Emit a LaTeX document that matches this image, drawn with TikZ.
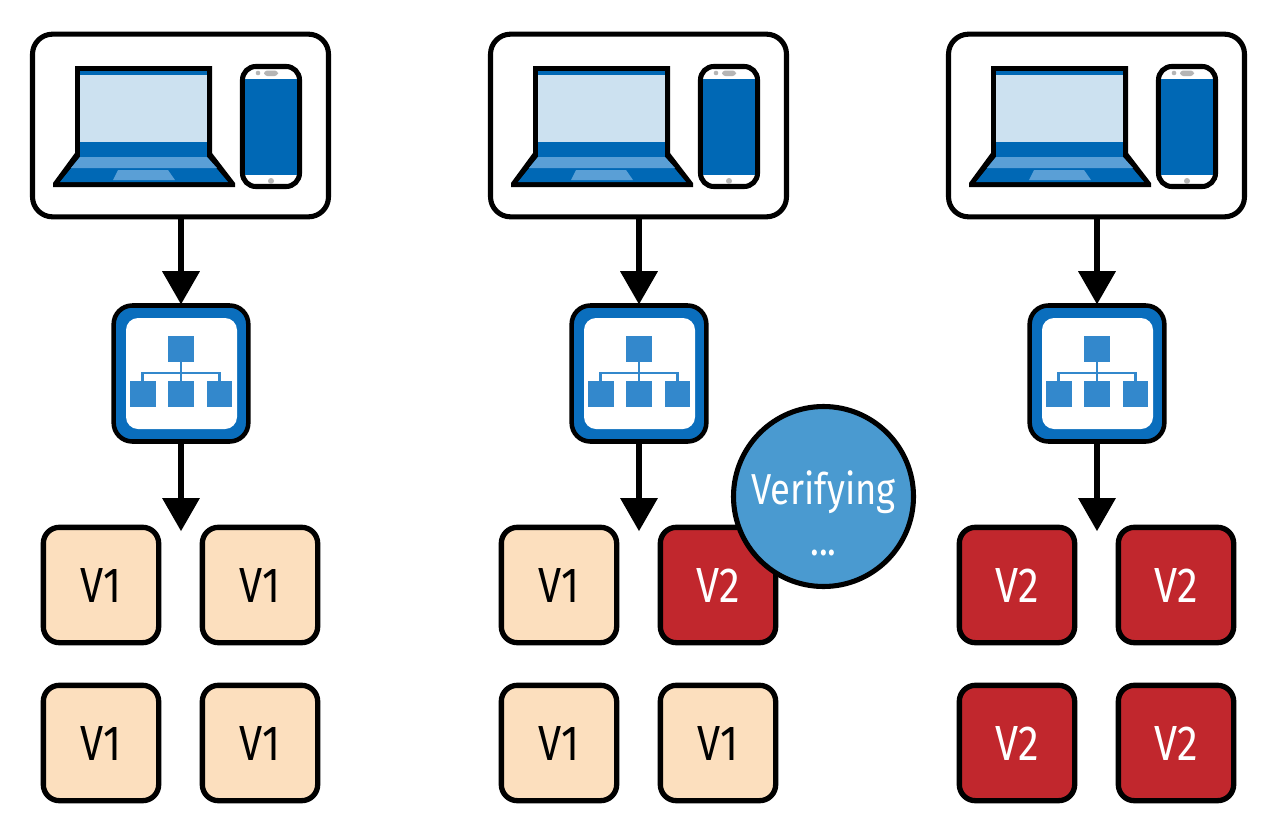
\documentclass[tikz,border=0pt]{standalone}
\usepackage{fontspec}
\setmainfont[FakeStretch=0.84]{Fira Sans}
\usetikzlibrary{arrows.meta}
\definecolor{lapblue}{HTML}{0068B5}
\definecolor{lapmid}{HTML}{5A9FD6}
\definecolor{lapscreen}{HTML}{CCE1F0}
\definecolor{balblue}{HTML}{0A6EBD}
\definecolor{balsq}{HTML}{3388CC}
\definecolor{peach}{HTML}{FCDFBE}
\definecolor{vred}{HTML}{C1272D}
\definecolor{verblue}{HTML}{4A9AD0}
\definecolor{phgray}{HTML}{B5B5B5}
\tikzset{
  devbox/.style={draw=black,fill=white,line width=3.8pt,rounded corners=15pt,minimum width=222pt,minimum height=137pt,inner sep=0pt},
  balbox/.style={draw=black,fill=balblue,line width=3.4pt,rounded corners=14pt,minimum width=101pt,minimum height=102pt,inner sep=0pt},
  vbase/.style={draw=black,line width=4pt,rounded corners=12pt,minimum width=86.5pt,minimum height=86.5pt,inner sep=0pt,font=\fontsize{37}{37}\selectfont},
  vone/.style={vbase,fill=peach,text=black},
  vtwo/.style={vbase,fill=vred,text=white},
  flow/.style={line width=5pt,-{Triangle[length=25pt,width=27pt]},shorten >=-1pt},
  verify/.style={circle,draw=black,fill=verblue,line width=3.8pt,minimum size=135pt,inner sep=0pt,text=white}
}
% #1 name prefix, #2 x offset
\newcommand{\deploycol}[2]{%
\begin{scope}[shift={(#2,0)}]
  \node[devbox] (#1dev) at (180.5,125.5) {};
  % laptop
  \fill[black] (75,66) -- (212,66) -- (212,153) -- (235,183) -- (235,187) -- (53,187) -- (53,183) -- (75,153) -- cycle;
  \fill[lapblue] (80,71) rectangle (207,157);
  \fill[lapscreen] (80,75) rectangle (207,142);
  \fill[lapblue] (80,157) -- (207,157) -- (228,182) -- (60,182) -- cycle;
  \fill[lapmid] (80,157) -- (207,157) -- (217,168) -- (71,168) -- cycle;
  \fill[lapmid] (118,170) -- (168,170) -- (175,180) -- (113,180) -- cycle;
  % phone
  \draw[black,fill=white,line width=3.8pt,rounded corners=10pt] (242.5,66.5) rectangle (299.5,186.5);
  \fill[lapblue] (245,79) rectangle (297,175);
  \fill[phgray] (258,73) circle (2.3);
  \fill[phgray,rounded corners=2.5pt] (264,70.5) rectangle (278,76);
  \fill[phgray] (271,181) circle (3);
  % balancer
  \node[balbox] (#1bal) at (181,373.5) {};
  \fill[white,rounded corners=9pt] (126,318) rectangle (237,429);
  \draw[balsq,line width=1.6pt] (181,362) -- (181,381) (142.5,381) -- (142.5,373) -- (219.5,373) -- (219.5,381);
  \fill[balsq] (168,336) rectangle (194,362);
  \fill[balsq] (130,381) rectangle (156,407);
  \fill[balsq] (168,381) rectangle (194,407);
  \fill[balsq] (207,381) rectangle (232,407);
  % connectors
  \coordinate (#1end) at (181,530);
  \draw[flow] (#1dev.south -| #1bal) -- (#1bal.north);
  \draw[flow] (#1bal.south) -- (#1end);
\end{scope}}
\begin{document}
\begin{tikzpicture}[x=0.75pt,y=-0.75pt]
\useasboundingbox[fill=white] (0,0) rectangle (1278,839);
\deploycol{a}{0}
\deploycol{b}{458}
\deploycol{c}{916}
% column 1
\node[vone] (a11) at (101,585) {V1};
\node[vone] (a12) at (260,585) {V1};
\node[vone] (a21) at (101,743) {V1};
\node[vone] (a22) at (260,743) {V1};
% column 2
\node[vone] (b11) at (559,585) {V1};
\node[vtwo] (b12) at (718,585) {V2};
\node[vone] (b21) at (559,743) {V1};
\node[vone] (b22) at (718,743) {V1};
\node[verify] (ver) at (823.5,496.5) {};
\node[text=white,font=\fontsize{32.5}{32.5}\selectfont] (vertxt) at (823.5,492) {Verifying};
\node[text=white,font=\fontsize{32.5}{32.5}\selectfont,anchor=base] (verdots) at (823.5,555) {...};
% column 3
\node[vtwo] (c11) at (1017,585) {V2};
\node[vtwo] (c12) at (1176,585) {V2};
\node[vtwo] (c21) at (1017,743) {V2};
\node[vtwo] (c22) at (1176,743) {V2};
\end{tikzpicture}
\end{document}
